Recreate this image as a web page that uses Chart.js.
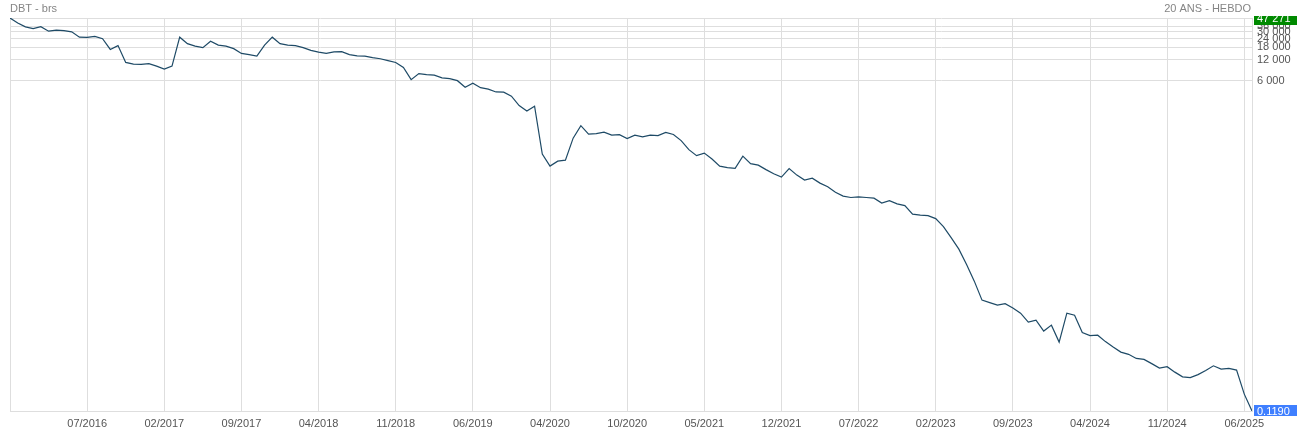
<!DOCTYPE html>
<html>
<head>
<meta charset="utf-8">
<script src="https://cdn.jsdelivr.net/npm/chart.js@4/dist/chart.umd.min.js"></script>
<style>
  html, body { margin: 0; padding: 0; background: #fff; }
  #wrap { width: 1297px; height: 433px; }
</style>
</head>
<body>
<div id="wrap"><canvas id="mainChart" width="1297" height="433"></canvas></div>
<script>
// ── Data (weekly-ish samples) ──
const titleLeft = 'DBT - brs';
const titleRight = '20 ANS - HEBDO';

// date labels shown every `tickEvery` points, starting at point 10
const tickLabels = ['07/2016', '02/2017', '09/2017', '04/2018', '11/2018', '06/2019',
  '04/2020', '10/2020', '05/2021', '12/2021', '07/2022', '02/2023', '09/2023',
  '04/2024', '11/2024', '06/2025'];
const tickEvery = 10;

const yTicks = [6000, 12000, 18000, 24000, 30000, 36000];
const yMin = 0.119;
const yMax = 47271;
const maxLabel = '47 271';
const lastLabel = '0.1190';

const prices = [
  47271, 40200, 35350, 33300, 35600, 30700, 31700, 31200, 30000, 25200,
  25000, 25800, 24000, 16850, 19100, 11000, 10400, 10300, 10570, 9740,
  8830, 9740, 25200, 20380, 18770, 17870, 22100, 19400, 18770, 17300,
  14770, 14200, 13520, 19400, 25200, 20380, 19400, 19100, 17870, 16310,
  15420, 14770, 15520, 15670, 14200, 13650, 13520, 12870, 12420, 11670,
  11000, 9330, 6260, 7620, 7370, 7250, 6640, 6460, 6050, 4890,
  5580, 4810, 4580, 4180, 4150, 3640, 2670, 2230, 2620, 543,
  367, 432, 446, 918, 1384, 1047, 1064, 1118, 1013, 1030,
  903, 1013, 958, 1013, 997, 1107, 1037, 846, 630, 517,
  562, 464, 367, 349, 340, 509, 398, 379, 327, 285,
  256, 338, 273, 232, 247, 210, 187, 156, 137, 131,
  134, 131, 128, 109, 118, 106.4, 100.3, 75.9, 73.5, 72.3,
  65.5, 50.4, 35.1, 24.1, 14.5, 8.43, 4.52, 4.17, 3.84, 4.03,
  3.48, 2.95, 2.20, 2.35, 1.64, 1.99, 1.14, 2.95, 2.76, 1.56,
  1.41, 1.43, 1.16, 0.968, 0.821, 0.764, 0.668, 0.646, 0.563, 0.486,
  0.510, 0.426, 0.365, 0.356, 0.393, 0.448, 0.524, 0.470, 0.481, 0.455,
  0.207, 0.119
];

// ── Formatting ──
function fmtThousands(n) {
  return Math.round(n).toString().replace(/\B(?=(\d{3})+(?!\d))/g, ' ');
}

const FONT = '"Liberation Sans", Arial, sans-serif';
const GRID = '#dedede';
const lastIdx = prices.length - 1;

// ── Titles + value boxes ──
const overlay = {
  id: 'overlay',
  afterDraw(c) {
    const ctx = c.ctx;
    const y = c.scales.y;
    ctx.save();
    ctx.font = '11px ' + FONT;
    ctx.fillStyle = '#858585';
    ctx.textBaseline = 'middle';
    ctx.textAlign = 'left';
    ctx.fillText(titleLeft, 10, 9);
    ctx.textAlign = 'right';
    ctx.fillText(titleRight, 1251, 9);

    const boxX = c.chartArea.right + 2;
    const boxW = c.width - boxX;
    // max box (green)
    const yTop = y.getPixelForValue(yMax);
    ctx.save();
    ctx.beginPath();
    ctx.rect(boxX, yTop - 2, boxW, 9);
    ctx.clip();
    ctx.fillStyle = '#008a00';
    ctx.fillRect(boxX, yTop - 2, boxW, 9);
    ctx.fillStyle = '#fff';
    ctx.textAlign = 'left';
    ctx.fillText(maxLabel, boxX + 3, yTop + 1);
    ctx.restore();

    // last value box (blue)
    const yLast = y.getPixelForValue(prices[lastIdx]);
    ctx.save();
    ctx.beginPath();
    ctx.rect(boxX, yLast - 6, boxW, 11);
    ctx.clip();
    ctx.fillStyle = '#3f7fff';
    ctx.fillRect(boxX, yLast - 6, boxW, 11);
    ctx.fillStyle = '#fff';
    ctx.textAlign = 'left';
    ctx.fillText(lastLabel, boxX + 3, yLast + 1);
    ctx.restore();
    ctx.restore();
  }
};

new Chart(document.getElementById('mainChart'), {
  type: 'line',
  data: {
    datasets: [{
      label: titleLeft,
      data: prices.map((v, i) => ({ x: i, y: v })),
      borderColor: '#1e4a66',
      borderWidth: 1.2,
      pointRadius: 0,
      tension: 0,
      fill: false
    }]
  },
  options: {
    responsive: false,
    animation: false,
    devicePixelRatio: 1,
    layout: { padding: { left: 10, top: 18, right: 0, bottom: 0 } },
    plugins: { legend: { display: false }, tooltip: { enabled: false } },
    scales: {
      x: {
        type: 'linear',
        min: 0,
        max: lastIdx,
        bounds: 'data',
        afterBuildTicks(scale) {
          const t = [{ value: 0 }];
          tickLabels.forEach((_, k) => t.push({ value: (k + 1) * tickEvery }));
          t.push({ value: lastIdx });
          scale.ticks = t;
        },
        afterFit(scale) { scale.height = 22; },
        ticks: {
          autoSkip: false,
          maxRotation: 0,
          padding: 6,
          color: '#555',
          font: { family: FONT, size: 11 },
          callback: v => {
            const k = v / tickEvery - 1;
            return (v % tickEvery === 0 && k >= 0 && k < tickLabels.length) ? tickLabels[k] : '';
          }
        },
        grid: { color: GRID, drawTicks: false },
        border: { color: GRID }
      },
      y: {
        type: 'logarithmic',
        position: 'right',
        min: yMin,
        max: yMax,
        bounds: 'data',
        afterBuildTicks(scale) {
          scale.ticks = [yMin, ...yTicks, yMax].map(v => ({ value: v }));
        },
        afterFit(scale) { scale.width = 45; },
        ticks: {
          autoSkip: false,
          padding: 5,
          color: '#555',
          font: { family: FONT, size: 11 },
          callback: v => yTicks.includes(v) ? fmtThousands(v) : ''
        },
        grid: { color: GRID, drawTicks: false },
        border: { color: GRID }
      }
    }
  },
  plugins: [overlay]
});
</script>
</body>
</html>
